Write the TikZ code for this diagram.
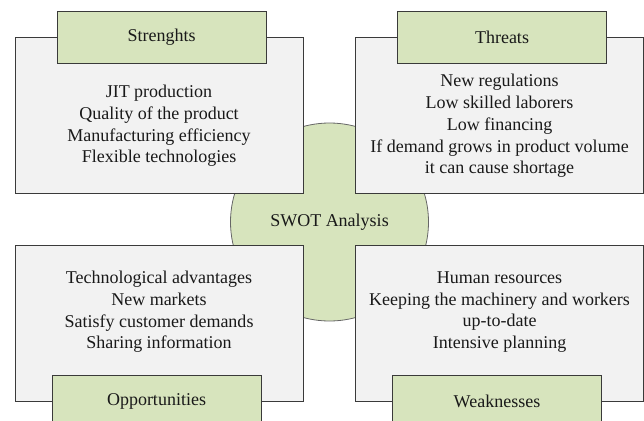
\documentclass[tikz,border=0pt]{standalone}
\usepackage{fontspec}
\setmainfont{Liberation Serif}
\definecolor{boxgray}{HTML}{F2F2F2}
\definecolor{tabgreen}{HTML}{D7E4BD}
\definecolor{edge}{HTML}{3A3A3A}
\begin{document}
\begin{tikzpicture}[x=1pt,y=-1pt,
  txt/.style={font=\fontsize{18}{21.7}\selectfont, text=black!90},
  panel/.style={draw=edge, fill=boxgray, line width=0.8pt, minimum width=288pt, minimum height=156pt, inner sep=0pt},
  tab/.style={txt, draw=edge, fill=tabgreen, line width=0.8pt, minimum width=209pt, minimum height=52pt, inner sep=0pt},
  body/.style={txt, align=center, inner sep=0pt},
  hub/.style={txt, circle, draw=black!60, fill=tabgreen, line width=0.8pt, minimum size=198pt, inner sep=0pt}]
\useasboundingbox (0,0) rectangle (644,420);
\clip (0,0) rectangle (644,420);
\node[hub] (swot) at (329.5,222) {SWOT Analysis};
\node[panel] (ps) at (159,115) {};
\node[panel] (pt) at (499.5,115) {};
\node[panel] (po) at (159,323.5) {};
\node[panel] (pw) at (499.5,323.5) {};
\node[tab] (ts) at (161.5,37) {Strenghts};
\node[tab] (tt) at (502,37) {Threats};
\node[tab] (to) at (156.5,401.5) {Opportunities};
\node[tab] (tw) at (497,401.5) {Weaknesses};
\node[body] (bs) at (159,126) {JIT production\\Quality of the product\\Manufacturing efficiency\\Flexible technologies};
\node[body] (bt) at (499.5,126) {New regulations\\Low skilled laborers\\Low financing\\If demand grows in product volume\\it can cause shortage};
\node[body] (bo) at (159,312) {Technological advantages\\New markets\\Satisfy customer demands\\Sharing information};
\node[body] (bw) at (499.5,312) {Human resources\\Keeping the machinery and workers\\up-to-date\\Intensive planning};
\end{tikzpicture}
\end{document}
